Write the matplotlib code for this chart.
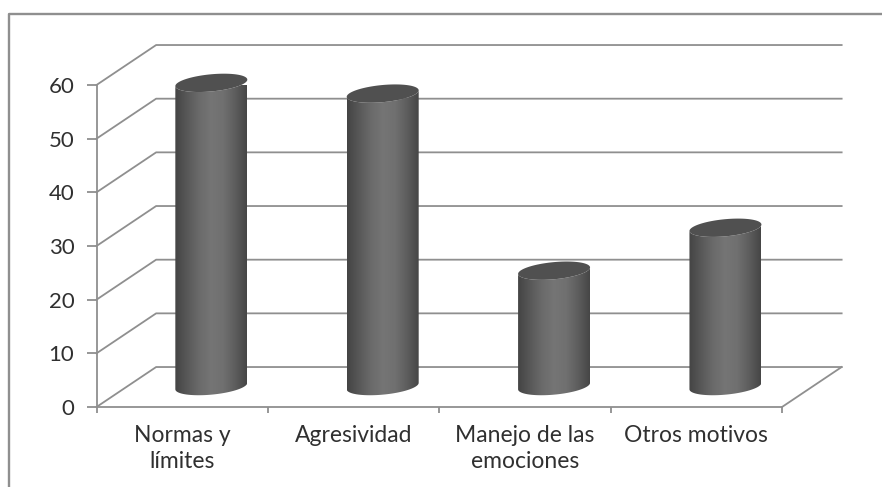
import matplotlib
matplotlib.use("Agg")
import matplotlib.pyplot as plt
import numpy as np
from matplotlib.colors import LinearSegmentedColormap
from matplotlib.lines import Line2D
from matplotlib.patches import Polygon

categories = ["Normas y\nlímites", "Agresividad", "Manejo de las\nemociones", "Otros motivos"]
values = [57, 55, 22, 30]
y_ticks = [0, 10, 20, 30, 40, 50, 60]

W, H = 882, 487
LINE = "#8f8f8f"
TEXT = "#303030"
# depth of the fake 3d box, in data units
DEPTH_X = 0.348
DEPTH_Y = 7.45
BASE_Y = 3.4
BOTTOM_LIFT = 0.5
BAR_W = 0.42
# ellipse shape, in data units
ELL_B = 1.6
ELL_TILT = 0.6

shade = LinearSegmentedColormap.from_list(
    "cyl", ["#444444", "#585858", "#6a6a6a", "#757575", "#707070", "#5e5e5e", "#464646"])

plt.rcParams["font.family"] = ["Lato", "DejaVu Sans"]
fig = plt.figure(figsize=(W / 100, H / 100), dpi=100)
ax = fig.add_axes([96.5 / W, 1 - 407 / H, (782 - 96.5) / W, (407 - 85) / H])
ax.patch.set_visible(False)

# outer frame, only left and top are in the crop
fig.add_artist(Line2D([9 / W, 9 / W, 1], [0, 1 - 14 / H, 1 - 14 / H], color=LINE, lw=1.7))

# walls
for v in y_ticks:
    ax.plot([0, DEPTH_X, 4 + DEPTH_X], [v, v + DEPTH_Y, v + DEPTH_Y],
            color=LINE, lw=1.3, clip_on=False, zorder=1)
ax.plot([4, 4 + DEPTH_X], [0, DEPTH_Y], color=LINE, lw=1.3, clip_on=False, zorder=1)


def ellipse(cx, cy, t):
    a = BAR_W / 2
    return cx + a * np.cos(t), cy + ELL_TILT * np.cos(t) + ELL_B * np.sin(t)


for i, v in enumerate(values):
    cx = i + 0.5 + DEPTH_X / 2 - 0.004
    top = BASE_Y + v
    t_low = np.linspace(np.pi, 2 * np.pi, 60)
    bx, by = ellipse(cx, BASE_Y + BOTTOM_LIFT, t_low)
    tx, ty = ellipse(cx, top, t_low[::-1])
    body = Polygon(np.column_stack([np.r_[bx, tx], np.r_[by, ty]]),
                   closed=True, fc="none", ec="none", transform=ax.transData)
    ax.add_patch(body)
    img = ax.imshow(np.linspace(0, 1, 200)[None, :], cmap=shade, aspect="auto",
                    extent=[cx - BAR_W / 2, cx + BAR_W / 2, BASE_Y - 3, top + 3],
                    zorder=3, clip_on=True)
    img.set_clip_path(body)
    t_all = np.linspace(0, 2 * np.pi, 120)
    ex, ey = ellipse(cx, top, t_all)
    ax.fill(ex, ey, color="#505050", zorder=4, lw=0, clip_on=False)

ax.set_xlim(0, 4)
ax.set_ylim(0, 60)
for s in ["top", "right"]:
    ax.spines[s].set_visible(False)
for s in ["left", "bottom"]:
    ax.spines[s].set_color(LINE)
    ax.spines[s].set_linewidth(1.3)

ax.set_yticks(y_ticks)
ax.set_xticks(range(5))
ax.set_xticklabels([])
ax.set_xticks([i + 0.5 for i in range(4)], minor=True)
ax.set_xticklabels(categories, minor=True, linespacing=1.32)
ax.tick_params(axis="y", color=LINE, width=1.3, length=7, labelsize=16, labelcolor=TEXT, pad=9)
ax.tick_params(axis="x", which="major", color=LINE, width=1.3, length=4)
ax.tick_params(axis="x", which="minor", length=0, labelsize=16.5, labelcolor=TEXT, pad=13)

fig.savefig("out.png", dpi=100)
